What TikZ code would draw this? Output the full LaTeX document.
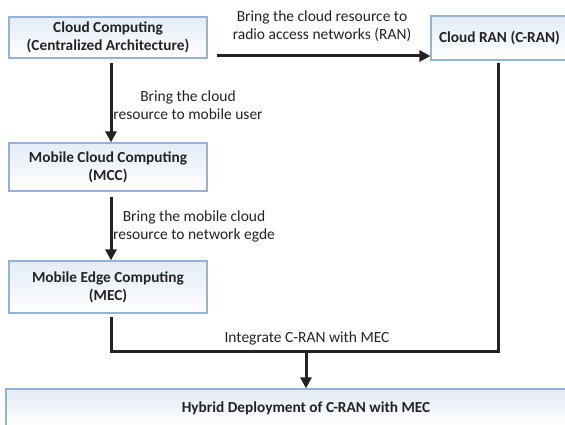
\documentclass[tikz,border=0pt]{standalone}
\usepackage{fontspec}
\setmainfont{Carlito}
\usetikzlibrary{arrows.meta,calc}
\definecolor{boxtop}{RGB}{228,236,246}
\definecolor{boxedge}{RGB}{149,179,215}
\definecolor{ink}{RGB}{35,35,35}
\tikzset{
  stage/.style={draw=boxedge, line width=1.2pt, top color=boxtop, bottom color=white,
    font=\fontsize{15.3}{18}\selectfont\bfseries, text=ink, align=center, inner sep=0pt},
  flow/.style={draw=ink, line width=3pt},
  arr/.style={flow, -{Triangle[length=11pt,width=11pt]}},
  note/.style={font=\fontsize{15.5}{18}\selectfont, text=ink, align=center, inner sep=0pt}
}
\begin{document}
\begin{tikzpicture}[x=1pt,y=-1pt]
\useasboundingbox (0,0) rectangle (565,425);
\begin{scope}
\clip (0,0) rectangle (565,425);
% stages
\node[stage, minimum width=198pt, minimum height=41pt] (cc) at (108,37.5)
  {Cloud Computing\\(Centralized Architecture)};
\node[stage, minimum width=137pt, minimum height=44pt] (cran) at (499.5,38)
  {Cloud RAN (C-RAN)};
\node[stage, minimum width=198pt, minimum height=48pt] (mcc) at (108,167)
  {Mobile Cloud Computing\\(MCC)};
\node[stage, minimum width=198pt, minimum height=52pt] (mec) at (108,287)
  {Mobile Edge Computing\\(MEC)};
\node[stage, minimum width=600pt, minimum height=38pt] (hyb) at (306,408)
  {Hybrid Deployment of C-RAN with MEC};

% transitions
\draw[arr, shorten <=9pt] (cc.east |- 0,56) -- (cran.west |- 0,56);
\draw[arr, shorten <=4pt] (cc.south -| 111,0) -- (mcc.north -| 111,0);
\draw[arr, shorten <=5pt] (mcc.south -| 111,0) -- (mec.north -| 111,0);
\coordinate (join) at (306,351);
\draw[flow, shorten <=3pt] (mec.south -| 111,0) |- (join);
\draw[flow, shorten <=2pt] (cran.south -| 498,0) |- (join);
\draw[arr] (join) -- (hyb.north);

% labels
\node[note] (l1) at (322,26) {Bring the cloud resource to\\radio access networks (RAN)};
\node[note] (l2) at (188,105) {Bring the cloud\\resource to mobile user};
\node[note] (l3) at (194,226.5) {Bring the mobile cloud\\resource to network egde};
\node[note] (l4) at (307,338) {Integrate C-RAN with MEC};
\end{scope}
\end{tikzpicture}
\end{document}
